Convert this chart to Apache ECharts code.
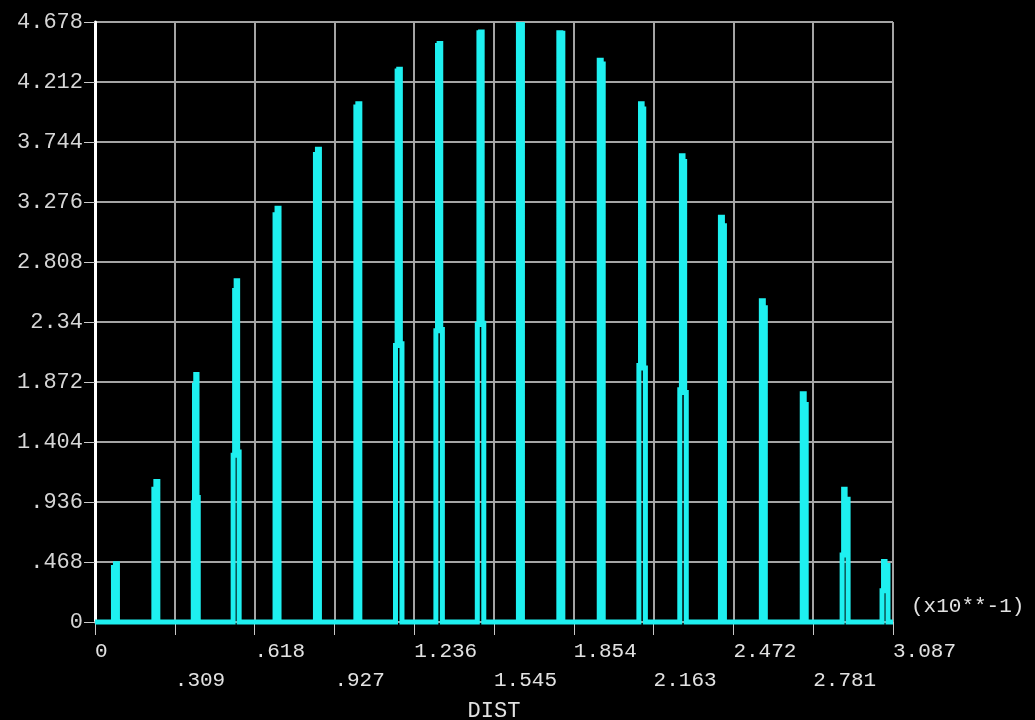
<!DOCTYPE html>
<html>
<head>
<meta charset="utf-8">
<script src="https://cdn.jsdelivr.net/npm/echarts@6/dist/echarts.min.js"></script>
<style>
  html, body { margin: 0; padding: 0; background: #000; }
  #chart { width: 1035px; height: 720px; }
</style>
</head>
<body>
<div id="chart"></div>
<script>
// ---- data (DIST in units of x10**-1) ----
const xTickLabels = ['0', '.309', '.618', '.927', '1.236', '1.545', '1.854', '2.163', '2.472', '2.781', '3.087'];
const yTickLabels = ['0', '.468', '.936', '1.404', '1.872', '2.34', '2.808', '3.276', '3.744', '4.212', '4.678'];
const xMax = 3.087;
const yMax = 4.678;

// each spike of the trace: left / right foot position, shoulder and peak values
const spikeLeftX  = [0.0714, 0.2277, 0.3801, 0.5344, 0.6965, 0.8528, 1.0091, 1.1625, 1.3187, 1.4789,
                     1.6380, 1.7943, 1.9506, 2.1040, 2.2622, 2.4194, 2.5777, 2.7359, 2.8902, 3.0446];
const spikeRightX = [0.0868, 0.2431, 0.3994, 0.5576, 0.7119, 0.8682, 1.0245, 1.1875, 1.3438, 1.5040,
                     1.6535, 1.8098, 1.9660, 2.1291, 2.2873, 2.4349, 2.5931, 2.7513, 2.9133, 3.0677];
const peakLeft    = [0.425, 1.035, 1.845, 2.585, 3.175, 3.645, 4.015, 4.295, 4.495, 4.595,
                     4.678, 4.595, 4.380, 4.040, 3.635, 3.155, 2.505, 1.780, 1.035, 0.471];
const peakRight   = [0.455, 1.095, 1.930, 2.660, 3.225, 3.685, 4.040, 4.310, 4.510, 4.600,
                     4.678, 4.590, 4.350, 4.000, 3.590, 3.090, 2.450, 1.695, 0.957, 0.440];
const shoulderLeft  = [0.425, 1.035, 0.930, 1.300, 3.175, 3.645, 4.015, 2.155, 2.270, 2.320,
                       4.678, 4.595, 4.380, 2.000, 1.810, 3.155, 2.505, 1.780, 0.522, 0.244];
const shoulderRight = [0.455, 1.095, 0.970, 1.325, 3.225, 3.685, 4.040, 2.170, 2.280, 2.330,
                       4.678, 4.590, 4.350, 1.980, 1.790, 3.090, 2.450, 1.695, 0.957, 0.440];

// ---- build the polyline (stepped outline of every spike) ----
const trace = [[0, 0]];
function add(p) {
  const last = trace[trace.length - 1];
  if (last[0] !== p[0] || last[1] !== p[1]) trace.push(p);
}
for (let i = 0; i < spikeLeftX.length; i++) {
  const xl = spikeLeftX[i], xr = spikeRightX[i], xm = (xl + xr) / 2;
  const qL = shoulderLeft[i] !== peakLeft[i] ? (xr - xl) * 0.25 : 0;
  const qR = shoulderRight[i] !== peakRight[i] ? (xr - xl) * 0.25 : 0;
  [[xl, 0], [xl, shoulderLeft[i]], [xl + qL, shoulderLeft[i]], [xl + qL, peakLeft[i]],
   [xm, peakLeft[i]], [xm, peakRight[i]], [xr - qR, peakRight[i]], [xr - qR, shoulderRight[i]],
   [xr, shoulderRight[i]], [xr, 0]].forEach(add);
}
add([xMax, 0]);

const chart = echarts.init(document.getElementById('chart'), null, { renderer: 'canvas' });
const gridCol = '#a4a4a4';
const xStep = xMax / 10, yStep = yMax / 10;

chart.setOption({
  backgroundColor: '#000',
  animation: false,
  grid: { left: 95, right: 142, top: 22, bottom: 98, containLabel: false, outerBoundsMode: 'none' },
  xAxis: {
    type: 'value', min: 0, max: xMax, interval: xStep,
    axisLine: { show: true, lineStyle: { color: gridCol, width: 2 } },
    axisTick: { show: true, length: 13, lineStyle: { color: '#c8c8c8', width: 1 } },
    splitLine: { show: true, lineStyle: { color: gridCol, width: 2 } },
    axisLabel: {
      show: true, interval: 0, showMinLabel: true, showMaxLabel: true, hideOverlap: false,
      align: 'left', margin: 15, color: '#e2e2e2',
      fontFamily: 'Liberation Mono', fontSize: 21, lineHeight: 29,
      formatter: function (v) {
        const i = Math.round(v / xStep);
        const t = xTickLabels[i] || '';
        return (i % 2 === 1) ? '\n' + t : t;
      }
    },
    name: 'DIST', nameLocation: 'middle', nameGap: 71,
    nameTextStyle: { color: '#e2e2e2', fontFamily: 'Liberation Mono', fontSize: 22 }
  },
  yAxis: {
    type: 'value', min: 0, max: yMax, interval: yStep,
    axisLine: { show: true, lineStyle: { color: '#ffffff', width: 3 } },
    axisTick: { show: true, length: 11, lineStyle: { color: '#c8c8c8', width: 1 } },
    splitLine: { show: true, lineStyle: { color: gridCol, width: 2 } },
    axisLabel: {
      show: true, margin: 12, color: '#d6d6d6',
      fontFamily: 'Liberation Mono', fontSize: 22,
      formatter: function (v) { return yTickLabels[Math.round(v / yStep)] || ''; }
    }
  },
  graphic: [
    { type: 'text', left: 911, top: 596,
      style: { text: '(x10**-1)', fill: '#e2e2e2', font: '21px "Liberation Mono"' } }
  ],
  series: [{
    type: 'custom', coordinateSystem: 'cartesian2d',
    data: [[0, 0]], encode: { x: 0, y: 1 },
    clip: false, silent: true, z: 5,
    renderItem: function (params, api) {
      const cs = params.coordSys;
      return {
        type: 'polyline',
        shape: { points: trace.map(function (p) { return api.coord(p); }) },
        clipPath: { type: 'rect', shape: { x: cs.x - 1, y: cs.y, width: cs.width + 2, height: cs.height + 4 } },
        style: { stroke: '#1ef0f0', fill: null, lineWidth: 5, lineJoin: 'miter', lineCap: 'butt' }
      };
    }
  }]
});
</script>
</body>
</html>
